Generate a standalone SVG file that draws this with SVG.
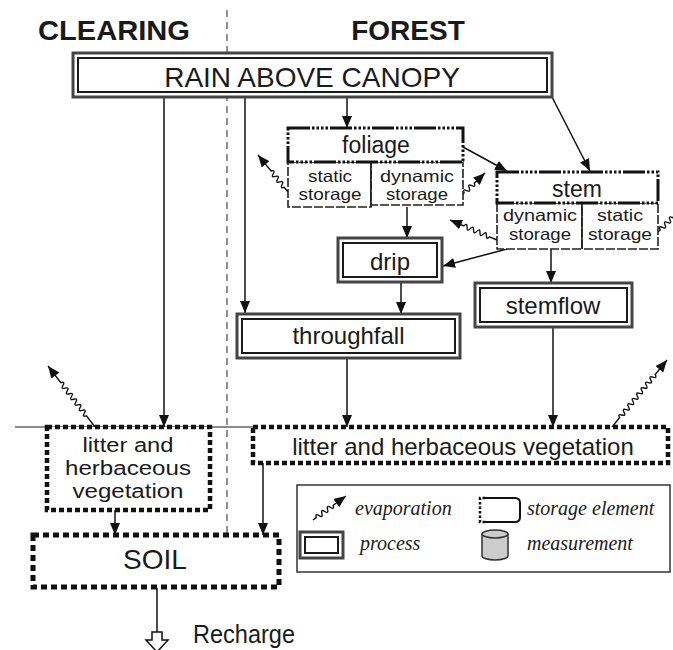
<svg xmlns="http://www.w3.org/2000/svg" width="673" height="650" viewBox="0 0 673 650">
<style>
text{font-family:"Liberation Sans",Arial,sans-serif;fill:#1a1a1a}
.c{text-anchor:middle}
.title{font-weight:bold;font-size:28px}
.lbl{font-size:24px}
.lbl2{font-size:20px}
.sm{font-size:16.5px}
.leg{font-family:"Liberation Serif","Times New Roman",serif;font-style:italic;font-size:20px}
.pout{fill:#fff;stroke:#444;stroke-width:3}
.pin{fill:none;stroke:#1a1a1a;stroke-width:2}
.sthick{fill:#fff;stroke:#111;stroke-width:4.5;stroke-dasharray:5 3}
.smix{fill:#fff;stroke:#111;stroke-width:3;stroke-dasharray:22 2 2.5 2 2.5 2 2.5 2 2.5 2}
.sthin{fill:#fff;stroke:#222;stroke-width:1.6;stroke-dasharray:9 2}
.con{fill:none;stroke:#111;stroke-width:1.5;marker-end:url(#ah)}
.evap{fill:none;stroke:#111;stroke-width:1.4;marker-end:url(#ah)}
</style>
<defs>
<marker id="ah" viewBox="0 0 12 10" refX="12" refY="5" markerWidth="12" markerHeight="10" markerUnits="userSpaceOnUse" orient="auto">
<path d="M0,0 L12,5 L0,10 z" fill="#111"/>
</marker>
</defs>
<rect width="673" height="650" fill="#fff"/>

<g id="background">
<line x1="227" y1="10" x2="227" y2="535" stroke="#777" stroke-width="1.6" stroke-dasharray="7 5"/>
<line x1="15" y1="427" x2="253" y2="427" stroke="#666" stroke-width="1.5"/>
<text class="title" x="38" y="40" textLength="152" lengthAdjust="spacingAndGlyphs">CLEARING</text>
<text class="title c" x="408" y="40">FOREST</text>
</g>

<g id="connectors">
<path class="con" d="M164,97 V427"/>
<path class="con" d="M245,97 V313"/>
<path class="con" d="M347,97 V128"/>
<path class="con" d="M552,97 L590,171"/>
<path class="con" d="M463,147 L507,171"/>
<path class="con" d="M407,207 V238"/>
<path class="con" d="M507,249 L443,266"/>
<path class="con" d="M401,282 V314"/>
<path class="con" d="M551,249 V283"/>
<path class="con" d="M347,358 V427"/>
<path class="con" d="M553,327 V427"/>
<path class="con" d="M263,463 V535"/>
<path class="con" d="M115,510 V535"/>
<path d="M157,588 V632" fill="none" stroke="#111" stroke-width="1.5"/>
<polygon points="152,632 162,632 162,640 168,640 157,652 146,640 152,640" fill="#fff" stroke="#111" stroke-width="1.5"/>
</g>

<g id="evaporation">
<path class="evap" transform="translate(95,427) rotate(-127.6)" d="M0,0 h14 q1.75,-4.5 3.5,0 q1.75,4.5 3.5,0 q1.75,-4.5 3.5,0 q1.75,4.5 3.5,0 q1.75,-4.5 3.5,0 q1.75,4.5 3.5,0 q1.75,-4.5 3.5,0 q1.75,4.5 3.5,0 q1.75,-4.5 3.5,0 q1.75,4.5 3.5,0 q1.75,-4.5 3.5,0 q1.75,4.5 3.5,0 H77"/>
<path class="evap" transform="translate(288,192) rotate(-129)" d="M0,0 h6 q1.75,-4.5 3.5,0 q1.75,4.5 3.5,0 q1.75,-4.5 3.5,0 q1.75,4.5 3.5,0 q1.75,-4.5 3.5,0 q1.75,4.5 3.5,0 H47.6"/>
<path class="evap" transform="translate(462,195) rotate(-43.7)" d="M0,0 h3 q1.75,-4.5 3.5,0 q1.75,4.5 3.5,0 q1.75,-4.5 3.5,0 q1.75,4.5 3.5,0 H31.8"/>
<path class="evap" transform="translate(497,240) rotate(-156.9)" d="M0,0 h8 q1.75,-4.5 3.5,0 q1.75,4.5 3.5,0 q1.75,-4.5 3.5,0 q1.75,4.5 3.5,0 q1.75,-4.5 3.5,0 q1.75,4.5 3.5,0 q1.75,-4.5 3.5,0 q1.75,4.5 3.5,0 H51"/>
<path class="evap" transform="translate(658,232) rotate(-45)" d="M0,0 h3 q1.75,-4.5 3.5,0 q1.75,4.5 3.5,0 q1.75,-4.5 3.5,0 q1.75,4.5 3.5,0 q1.75,-4.5 3.5,0 q1.75,4.5 3.5,0 q1.75,-4.5 3.5,0 q1.75,4.5 3.5,0 H40"/>
<path class="evap" transform="translate(612,427) rotate(-50.6)" d="M0,0 h12 q1.75,-4.5 3.5,0 q1.75,4.5 3.5,0 q1.75,-4.5 3.5,0 q1.75,4.5 3.5,0 q1.75,-4.5 3.5,0 q1.75,4.5 3.5,0 q1.75,-4.5 3.5,0 q1.75,4.5 3.5,0 q1.75,-4.5 3.5,0 q1.75,4.5 3.5,0 q1.75,-4.5 3.5,0 q1.75,4.5 3.5,0 q1.75,-4.5 3.5,0 q1.75,4.5 3.5,0 q1.75,-4.5 3.5,0 q1.75,4.5 3.5,0 H86.7"/>
</g>

<g id="rain">
<rect class="pout" x="73" y="53" width="479" height="44"/>
<rect class="pin" x="78" y="58" width="469" height="34"/>
<text class="c" x="312" y="87" font-size="28">RAIN ABOVE CANOPY</text>
</g>

<g id="foliage">
<rect class="sthin" x="288" y="162" width="83" height="45"/>
<rect class="sthin" x="371" y="162" width="92" height="43"/>
<line x1="371" y1="162" x2="371" y2="207" stroke="#222" stroke-width="1.6"/>
<rect class="smix" x="288" y="128" width="175" height="34"/>
<text class="c" x="376" y="153" font-size="23">foliage</text>
<text class="c sm" x="330" y="182" textLength="44" lengthAdjust="spacingAndGlyphs">static</text>
<text class="c sm" x="330" y="200" textLength="63" lengthAdjust="spacingAndGlyphs">storage</text>
<text class="c sm" x="417" y="182" textLength="74" lengthAdjust="spacingAndGlyphs">dynamic</text>
<text class="c sm" x="417" y="200" textLength="62" lengthAdjust="spacingAndGlyphs">storage</text>
</g>

<g id="stem">
<rect class="sthin" x="497" y="203" width="85" height="46"/>
<rect class="sthin" x="582" y="203" width="76" height="46"/>
<line x1="582" y1="203" x2="582" y2="249" stroke="#222" stroke-width="1.6"/>
<rect class="smix" x="497" y="172" width="161" height="31"/>
<text class="c" x="577" y="197" font-size="23">stem</text>
<text class="c sm" x="540" y="221" textLength="74" lengthAdjust="spacingAndGlyphs">dynamic</text>
<text class="c sm" x="540" y="240" textLength="62" lengthAdjust="spacingAndGlyphs">storage</text>
<text class="c sm" x="620" y="221" textLength="46" lengthAdjust="spacingAndGlyphs">static</text>
<text class="c sm" x="620" y="240" textLength="64" lengthAdjust="spacingAndGlyphs">storage</text>
</g>

<g id="drip">
<rect class="pout" x="338" y="238" width="104" height="44"/>
<rect class="pin" x="343" y="243" width="94" height="34"/>
<text class="c lbl" x="390" y="270">drip</text>
</g>

<g id="throughfall">
<rect class="pout" x="237" y="314" width="223" height="44"/>
<rect class="pin" x="242" y="319" width="213" height="34"/>
<text class="c lbl" x="348.5" y="344">throughfall</text>
</g>

<g id="stemflow">
<rect class="pout" x="475" y="283" width="157" height="44"/>
<rect class="pin" x="480" y="288" width="147" height="34"/>
<text class="c lbl" x="553" y="314">stemflow</text>
</g>

<g id="litter-clearing">
<rect class="sthick" x="47" y="427" width="163" height="83"/>
<text class="c lbl2" x="128" y="452" textLength="91" lengthAdjust="spacingAndGlyphs">litter and</text>
<text class="c lbl2" x="128" y="475" textLength="126" lengthAdjust="spacingAndGlyphs">herbaceous</text>
<text class="c lbl2" x="128" y="498" textLength="111" lengthAdjust="spacingAndGlyphs">vegetation</text>
</g>

<g id="litter-forest">
<rect class="sthick" x="253" y="427" width="415" height="36"/>
<text class="c lbl" x="463" y="455">litter and herbaceous vegetation</text>
</g>

<g id="soil">
<rect fill="#fff" stroke="#111" stroke-width="5" stroke-dasharray="6 4" x="33" y="535" width="246" height="52"/>
<text class="c" x="155" y="569" font-size="28">SOIL</text>
</g>

<g id="recharge">
<text x="193" y="643" font-family="'Open Sans',sans-serif" font-size="25" textLength="102" lengthAdjust="spacingAndGlyphs">Recharge</text>
</g>

<g id="legend">
<rect x="297" y="485" width="373" height="87" fill="#fff" stroke="#333" stroke-width="1.5"/>
<path class="evap" transform="translate(313,520) rotate(-36)" d="M0,0 h4 q1.75,-4.5 3.5,0 q1.75,4.5 3.5,0 q1.75,-4.5 3.5,0 q1.75,4.5 3.5,0 q1.75,-4.5 3.5,0 q1.75,4.5 3.5,0 H40.8"/>
<text class="leg" x="355" y="515">evaporation</text>
<path d="M484,498 H515 Q520,498 520,503 V517 Q520,522 515,522 H484" fill="none" stroke="#111" stroke-width="2"/>
<path d="M485,498 H480 V522 H485" fill="none" stroke="#111" stroke-width="2.5" stroke-dasharray="2.5 2"/>
<text class="leg" x="527" y="515">storage element</text>
<rect class="pout" x="300" y="532" width="43" height="26"/>
<rect class="pin" x="305" y="537" width="33" height="16"/>
<text class="leg" x="360" y="550">process</text>
<path d="M482,534 V556 A13,4 0 0 0 508,556 V534" fill="#ccc" stroke="#333" stroke-width="1.5"/>
<ellipse cx="495" cy="534" rx="13" ry="4" fill="#ccc" stroke="#333" stroke-width="1.5"/>
<text class="leg" x="527" y="550">measurement</text>
</g>
</svg>
